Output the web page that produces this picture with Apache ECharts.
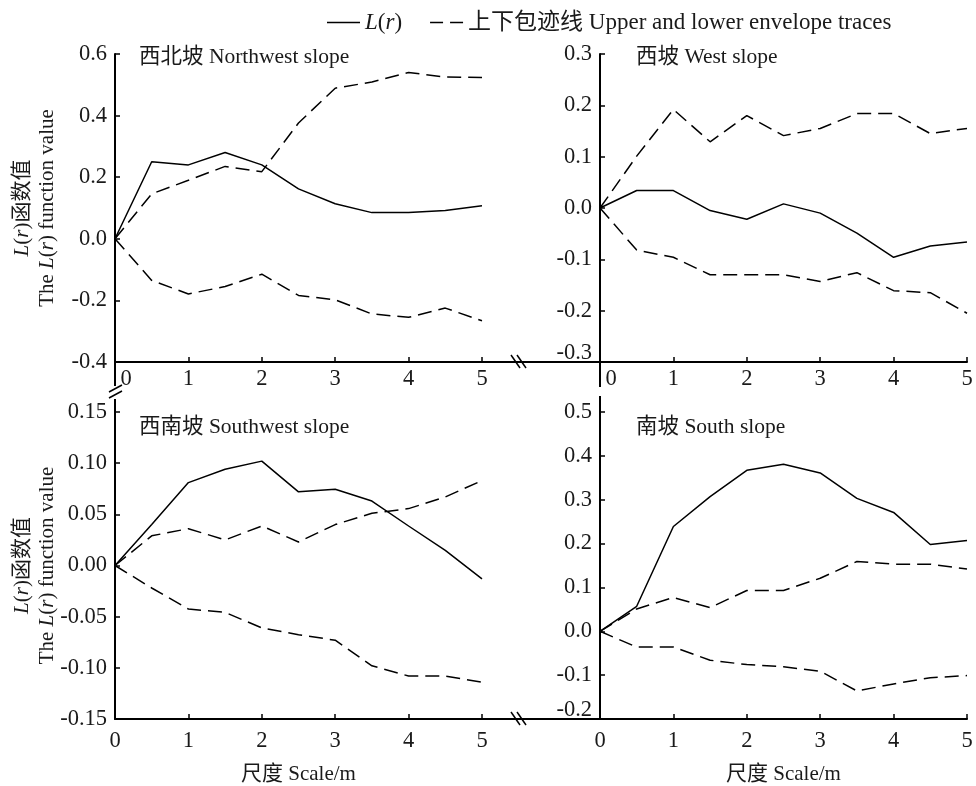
<!DOCTYPE html>
<html>
<head>
<meta charset="utf-8">
<style>html,body{margin:0;padding:0;background:#fff}#c{width:976px;height:786px}</style>
<script src="https://cdn.jsdelivr.net/npm/echarts@6/dist/echarts.min.js"></script>
</head>
<body>
<div id="c"></div>
<script>
// ---- data ----
const scales = [0, 0.5, 1, 1.5, 2, 2.5, 3, 3.5, 4, 4.5, 5];
const panelNames = ['西北坡 Northwest slope', '西坡 West slope', '西南坡 Southwest slope', '南坡 South slope'];
const nwL  = [0, 0.25, 0.24, 0.28, 0.24, 0.162, 0.114, 0.085, 0.085, 0.092, 0.107];
const nwUp = [0, 0.146, 0.19, 0.235, 0.218, 0.376, 0.489, 0.509, 0.54, 0.525, 0.524];
const nwLo = [0, -0.135, -0.179, -0.155, -0.115, -0.184, -0.198, -0.244, -0.255, -0.225, -0.266];
const wL   = [0, 0.034, 0.034, -0.005, -0.022, 0.008, -0.01, -0.049, -0.096, -0.074, -0.066];
const wUp  = [0, 0.101, 0.192, 0.129, 0.18, 0.141, 0.155, 0.184, 0.184, 0.145, 0.155];
const wLo  = [0, -0.082, -0.096, -0.13, -0.13, -0.13, -0.143, -0.126, -0.161, -0.165, -0.205];
const swL  = [0, 0.04, 0.081, 0.094, 0.102, 0.072, 0.0745, 0.063, 0.0386, 0.0147, -0.013];
const swUp = [0, 0.029, 0.036, 0.025, 0.0386, 0.023, 0.040, 0.051, 0.0556, 0.067, 0.083];
const swLo = [0, -0.022, -0.0425, -0.0458, -0.061, -0.0676, -0.073, -0.098, -0.108, -0.108, -0.114];
const sL   = [0, 0.057, 0.239, 0.307, 0.367, 0.381, 0.361, 0.303, 0.271, 0.198, 0.207];
const sUp  = [0, 0.051, 0.077, 0.054, 0.093, 0.093, 0.121, 0.159, 0.153, 0.153, 0.142];
const sLo  = [0, -0.036, -0.036, -0.066, -0.076, -0.081, -0.091, -0.136, -0.12, -0.106, -0.101];
const yMins = [-0.4, -0.3, -0.15, -0.2];
const yMaxs = [0.6, 0.3, 0.15, 0.5];
const yIntervals = [0.2, 0.1, 0.05, 0.1];
const yDecimals = [1, 1, 2, 1];
const nameL = 'L(r)';
const nameEnv = '上下包迹线 Upper and lower envelope traces';
const xName = '尺度 Scale/m';

// ---- styling ----
const FONT = "'Liberation Serif', 'Times New Roman', 'Noto Sans CJK SC', serif";
const FS = 21;
const FT = 22.5;
const FL = 23;
const TXT = '#1a1a1a';
const panelData = [[nwL, nwUp, nwLo], [wL, wUp, wLo], [swL, swUp, swLo], [sL, sUp, sLo]];
const grids = [
  {left: 115, top: 54, width: 367, height: 308},
  {left: 600, top: 54, width: 367, height: 308},
  {left: 115, top: 412, width: 367, height: 307},
  {left: 600, top: 412, width: 367, height: 307}
];
const richI = {i: {fontStyle: 'italic', fontFamily: FONT, fontSize: FS, color: TXT}};
const richIL = {i: {fontStyle: 'italic', fontFamily: FONT, fontSize: FL, color: TXT}};

const xAxes = grids.map((g, k) => ({
  type: 'value', gridIndex: k, min: 0, max: 5, interval: 1,
  name: k >= 2 ? xName : '', nameLocation: 'middle', nameGap: 45, nameMoveOverlap: false,
  nameTextStyle: {fontFamily: FONT, fontSize: FS, color: TXT},
  axisLine: {onZero: false, lineStyle: {color: '#000', width: 2}},
  axisTick: {inside: true, length: 5, lineStyle: {color: '#000', width: 1.5}},
  splitLine: {show: false},
  axisLabel: {
    margin: k < 2 ? 6 : 11, fontFamily: FONT, fontSize: FT, color: TXT,
    formatter: v => (k < 2 && v === 0) ? '{z|0}' : String(v),
    rich: {z: {padding: [0, 0, 0, 22], fontFamily: FONT, fontSize: FT, color: TXT}}
  }
}));
const yAxes = grids.map((g, k) => ({
  type: 'value', gridIndex: k, min: yMins[k], max: yMaxs[k], interval: yIntervals[k],
  name: (k === 0 || k === 2) ? '{i|L}({i|r})函数值\nThe {i|L}({i|r}) function value' : '',
  nameLocation: 'middle', nameGap: 55, nameRotate: 90, nameMoveOverlap: false,
  nameTextStyle: {fontFamily: FONT, fontSize: FS, color: TXT, lineHeight: 25, rich: richI},
  axisLine: {onZero: false, lineStyle: {color: '#000', width: 2}},
  axisTick: {inside: true, length: 5, lineStyle: {color: '#000', width: 1.5}},
  splitLine: {show: false},
  axisLabel: {
    margin: 8, fontFamily: FONT, fontSize: FT, color: TXT,
    formatter: v => {
      const s = v.toFixed(yDecimals[k]);
      if ((k === 1 || k === 3) && Math.abs(v - yMins[k]) < 1e-9) return '{m|' + s + '}';
      return s;
    },
    rich: {m: {padding: [0, 0, 18, 0], fontFamily: FONT, fontSize: FT, color: TXT}}
  }
}));

const series = [];
panelData.forEach((arrs, k) => {
  arrs.forEach((vals, j) => {
    series.push({
      type: 'line', xAxisIndex: k, yAxisIndex: k,
      name: j === 0 ? nameL : nameEnv,
      data: scales.map((x, i) => [x, vals[i]]),
      symbol: 'none', silent: true,
      lineStyle: {color: '#000', width: 1.5, type: j === 0 ? 'solid' : [14, 7]},
      itemStyle: {color: '#000'}
    });
  });
});

const titles = panelNames.map((t, k) => ({
  text: t, left: grids[k].left + (k % 2 === 0 ? 24 : 36), top: k < 2 ? 47 : 417, padding: 0,
  textStyle: {fontFamily: FONT, fontSize: 21.5, fontWeight: 'normal', color: TXT}
}));

function seg(x1, y1, x2, y2, w) {
  return {type: 'line', shape: {x1, y1, x2, y2}, style: {stroke: '#000', lineWidth: w || 2}, silent: true};
}
const graphics = [
  seg(482, 362, 600, 362),
  seg(511, 355, 520, 368, 1.5), seg(517, 355, 526, 368, 1.5),
  seg(482, 719, 600, 719),
  seg(511, 712, 520, 725, 1.5), seg(517, 712, 526, 725, 1.5),
  seg(115, 362, 115, 386), seg(115, 399, 115, 412),
  seg(109, 392, 122, 385, 1.5), seg(109, 398, 122, 391, 1.5),
  seg(600, 362, 600, 387), seg(600, 396, 600, 412)
];

const chart = echarts.init(document.getElementById('c'), null, {renderer: 'canvas'});
chart.setOption({
  animation: false,
  backgroundColor: '#fff',
  title: titles,
  legend: {
    data: [
      {name: nameL, icon: 'path://M0,0H33V1H0Z'},
      {name: nameEnv, icon: 'path://M0,0H13V1H0ZM20,0H33V1H20Z'}
    ],
    left: 322, top: 6, itemWidth: 33, itemHeight: 1.6, itemGap: 28,
    symbolKeepAspect: false,
    itemStyle: {color: '#000', borderWidth: 0},
    textStyle: {fontFamily: FONT, fontSize: FL, color: TXT, rich: richIL},
    formatter: n => n === nameL ? '{i|L}({i|r})' : n
  },
  grid: grids,
  xAxis: xAxes,
  yAxis: yAxes,
  series: series,
  graphic: graphics
});
</script>
</body>
</html>
